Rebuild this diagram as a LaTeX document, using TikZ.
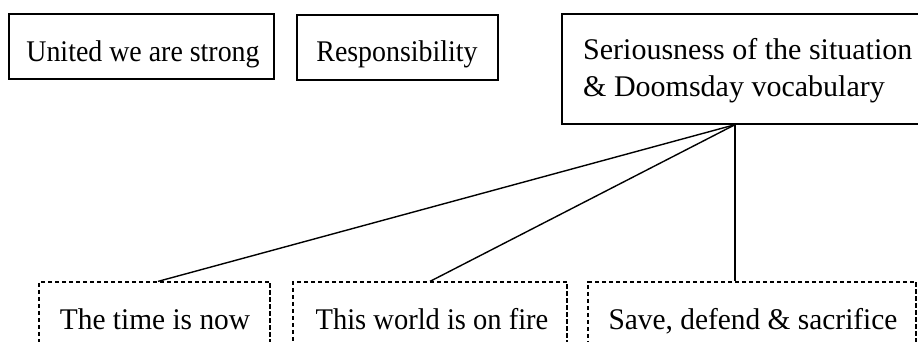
\documentclass[tikz,border=0pt]{standalone}
\usepackage{fontspec}
\setmainfont{Liberation Serif}
\newcommand{\fs}[1]{\fontsize{30}{37}\selectfont\addfontfeature{FakeStretch=#1}}
\begin{document}
\begin{tikzpicture}[x=1pt,y=1pt,
  solidbox/.style={draw, line width=1.4pt, rectangle, inner sep=0pt},
  dashbox/.style={draw, line width=1.2pt, dash pattern=on 4.5pt off 2.5pt, rectangle, inner sep=0pt},
  lbl/.style={anchor=base, inner sep=0pt},
  lblw/.style={anchor=base west, inner sep=0pt},
  conn/.style={line width=1.4pt}]
\useasboundingbox (0,0) rectangle (918,342);
% top boxes
\node[solidbox, minimum width=265pt, minimum height=65pt] (a) at (141.5,295.5) {};
\node[solidbox, minimum width=201pt, minimum height=65pt] (b) at (397.5,294.5) {};
\node[solidbox, minimum width=358pt, minimum height=110pt] (s) at (741,273) {};
\node[lbl, font=\fs{0.93}] (at) at (143,280) {United we are strong};
\node[lbl, font=\fs{0.93}] (bt) at (397,280) {Responsibility};
\node[lblw, font=\fs{1.0}] (st1) at (583,282) {Seriousness of the situation};
\node[lblw, font=\fs{1.0}] (st2) at (583,245) {\& Doomsday vocabulary};
% bottom boxes
\node[dashbox, minimum width=231pt, minimum height=90pt] (c) at (154.5,15) {};
\node[dashbox, minimum width=274pt, minimum height=90pt] (d) at (430,15) {};
\node[dashbox, minimum width=328pt, minimum height=90pt] (e) at (752,15) {};
\node[lbl, font=\fs{0.98}] (ct) at (155,12) {The time is now};
\node[lbl, font=\fs{0.95}] (dt) at (432,12) {This world is on fire};
\node[lbl, font=\fs{0.98}] (et) at (753,12) {Save, defend \& sacrifice};
% connectors
\coordinate (hub) at ([xshift=-6pt]s.south);
\coordinate (c1) at ([xshift=3.5pt]c.north);
\draw[conn] (hub) -- (c1);
\draw[conn] (hub) -- (d.north);
\draw[conn] (hub) -- (hub |- e.north);
\end{tikzpicture}
\end{document}
